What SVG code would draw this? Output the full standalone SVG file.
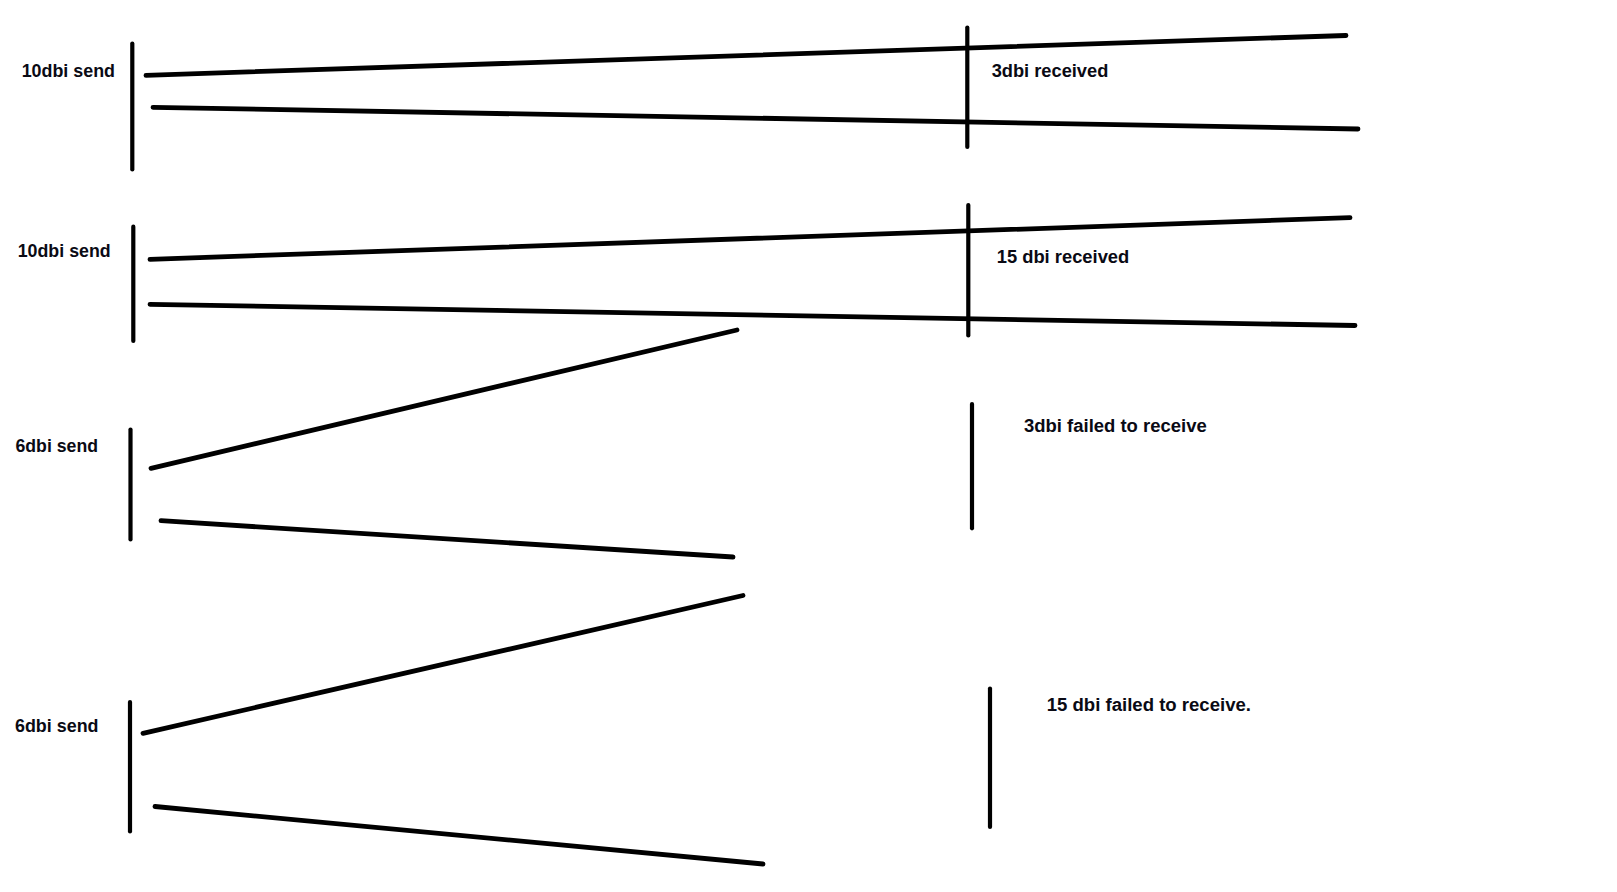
<svg xmlns="http://www.w3.org/2000/svg" width="1617" height="892" viewBox="0 0 1617 892">
<style>
.bg{fill:#ffffff}
.ant{stroke:#000;stroke-width:4.2;stroke-linecap:round;fill:none}
.beam{stroke:#000;stroke-width:4.8;stroke-linecap:round;fill:none}
.lbl{font-family:"Liberation Sans",Arial,sans-serif;font-weight:bold;font-size:18.7px;fill:#0a0a14}
</style>
<rect class="bg" x="0" y="0" width="1617" height="892"/>
<g id="connectors">
<line class="beam" x1="146" y1="75.3" x2="1346" y2="35.5"/>
<line class="beam" x1="153" y1="107.3" x2="1358" y2="129"/>
<line class="beam" x1="150" y1="259.3" x2="1350" y2="217.7"/>
<line class="beam" x1="150" y1="304.3" x2="1355" y2="325.5"/>
<line class="beam" x1="151" y1="468.3" x2="737" y2="330"/>
<line class="beam" x1="161" y1="520.7" x2="733" y2="557"/>
<line class="beam" x1="143" y1="733.3" x2="743" y2="595.5"/>
<line class="beam" x1="155" y1="806.5" x2="763" y2="864"/>
</g>
<g id="send1">
<line class="ant" x1="132.3" y1="43.5" x2="132.3" y2="169.5"/>
<text class="lbl" x="21.7" y="76.7" textLength="93.3" lengthAdjust="spacingAndGlyphs">10dbi send</text>
</g>
<g id="recv1">
<line class="ant" x1="967.3" y1="27.5" x2="967.3" y2="147"/>
<text class="lbl" x="991.7" y="76.7" textLength="116.6" lengthAdjust="spacingAndGlyphs">3dbi received</text>
</g>
<g id="send2">
<line class="ant" x1="133.3" y1="226.7" x2="133.3" y2="341"/>
<text class="lbl" x="17.7" y="257.3" textLength="93" lengthAdjust="spacingAndGlyphs">10dbi send</text>
</g>
<g id="recv2">
<line class="ant" x1="968.3" y1="205" x2="968.3" y2="335.5"/>
<text class="lbl" x="996.7" y="263.3" textLength="132.6" lengthAdjust="spacingAndGlyphs">15 dbi received</text>
</g>
<g id="send3">
<line class="ant" x1="130.5" y1="429.5" x2="130.5" y2="539.5"/>
<text class="lbl" x="15.5" y="452.2" textLength="82.5" lengthAdjust="spacingAndGlyphs">6dbi send</text>
</g>
<g id="recv3">
<line class="ant" x1="972" y1="404" x2="972" y2="528.3"/>
<text class="lbl" x="1024" y="431.7" textLength="182.7" lengthAdjust="spacingAndGlyphs">3dbi failed to receive</text>
</g>
<g id="send4">
<line class="ant" x1="130" y1="702" x2="130" y2="831.5"/>
<text class="lbl" x="15" y="731.7" textLength="83.5" lengthAdjust="spacingAndGlyphs">6dbi send</text>
</g>
<g id="recv4">
<line class="ant" x1="990" y1="688.5" x2="990" y2="827"/>
<text class="lbl" x="1046.7" y="710.7" textLength="204.3" lengthAdjust="spacingAndGlyphs">15 dbi failed to receive.</text>
</g>
</svg>
